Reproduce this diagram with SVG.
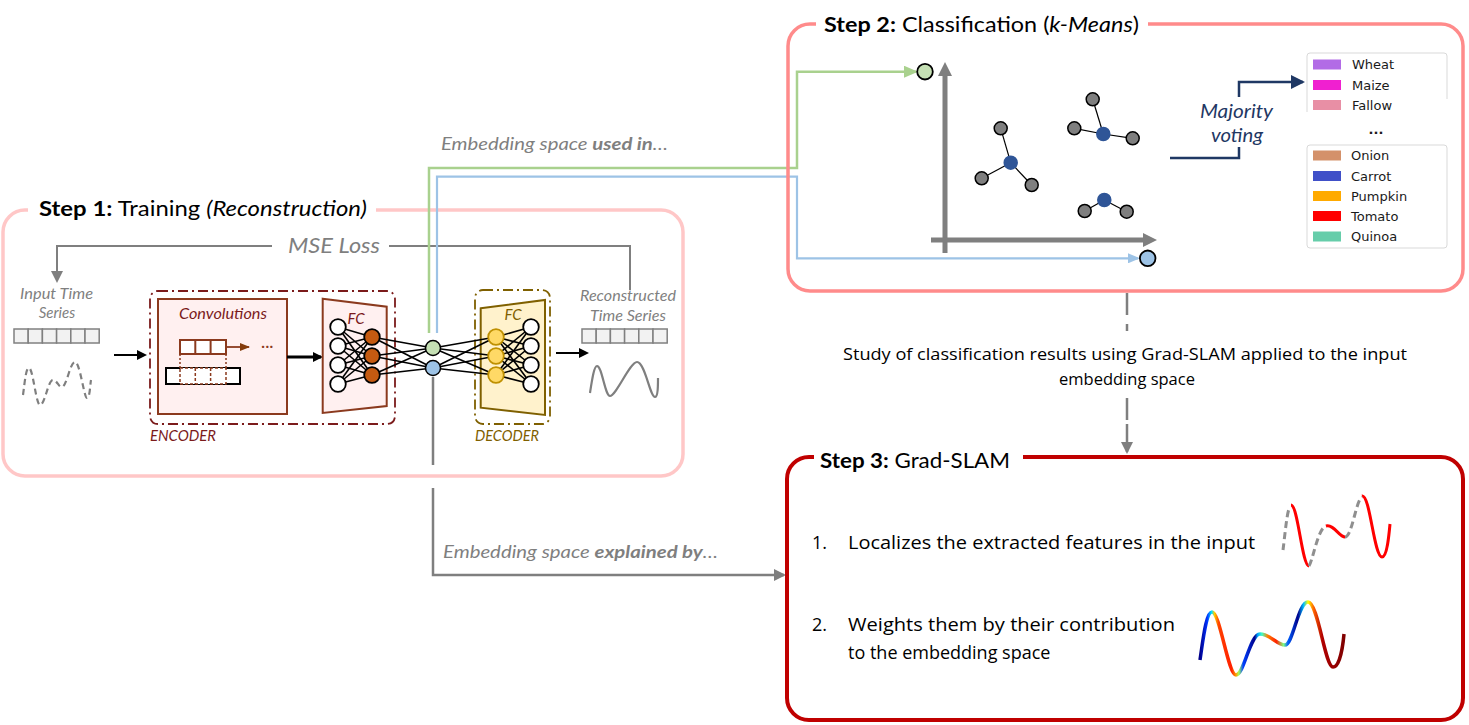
<svg xmlns="http://www.w3.org/2000/svg" width="1469" height="725" viewBox="0 0 1469 725">
<style>
.f{font-family:Lato,"Open Sans","Liberation Sans",sans-serif}
.gi{font-family:Lato,"Open Sans","Liberation Sans",sans-serif;font-style:italic;fill:#7f7f7f}
.si{font-family:Lato,"Open Sans","Liberation Sans",sans-serif;font-style:italic}
.body{font-family:"Open Sans","Noto Sans","Liberation Sans",sans-serif;fill:#000}
.leg{font-family:"DejaVu Sans",sans-serif;font-size:13px;fill:#1a1a1a}
.nw{fill:#fff;stroke:#000;stroke-width:1.8}
.no{fill:#C55A11;stroke:#000;stroke-width:1.8}
.ny{fill:#FFD966;stroke:#BF9000;stroke-width:1.8}
.ng{fill:#7f7f7f;stroke:#000;stroke-width:1.5}
.nb{fill:#2F5597;stroke:#2F5597;stroke-width:1.5}
.net line{stroke:#000;stroke-width:1.6}
.cell{fill:#f2f2f2;stroke:#808080;stroke-width:1.5}
</style>
<defs>
<marker id="ab" markerWidth="10" markerHeight="10" refX="8" refY="5" orient="auto" markerUnits="userSpaceOnUse"><path d="M0,0 L10,5 L0,10 z" fill="#000"/></marker>
<marker id="ag" markerWidth="12" markerHeight="12" refX="10" refY="6" orient="auto" markerUnits="userSpaceOnUse"><path d="M0,0 L12,6 L0,12 z" fill="#7f7f7f"/></marker>
<marker id="agr" markerWidth="14" markerHeight="12" refX="12" refY="6" orient="auto" markerUnits="userSpaceOnUse"><path d="M0,0 L14,6 L0,12 z" fill="#A9D18E"/></marker>
<marker id="abl" markerWidth="12" markerHeight="10" refX="10" refY="5" orient="auto" markerUnits="userSpaceOnUse"><path d="M0,0 L12,5 L0,10 z" fill="#9DC3E6"/></marker>
<marker id="anv" markerWidth="14" markerHeight="14" refX="12" refY="7" orient="auto" markerUnits="userSpaceOnUse"><path d="M0,0 L14,7 L0,14 z" fill="#1F3864"/></marker>
<marker id="abr" markerWidth="10" markerHeight="8" refX="9" refY="4" orient="auto" markerUnits="userSpaceOnUse"><path d="M0,0 L10,4 L0,8 z" fill="#843C0C"/></marker>
<linearGradient id="jet" gradientUnits="userSpaceOnUse" x1="1200" y1="0" x2="1344" y2="0">
<stop offset="0" stop-color="#00008B"/>
<stop offset="0.05" stop-color="#0030ff"/>
<stop offset="0.08" stop-color="#00e0ff"/>
<stop offset="0.1" stop-color="#ffd000"/>
<stop offset="0.13" stop-color="#ff4000"/>
<stop offset="0.22" stop-color="#ff2000"/>
<stop offset="0.25" stop-color="#ffa000"/>
<stop offset="0.27" stop-color="#a0ff60"/>
<stop offset="0.3" stop-color="#0040ff"/>
<stop offset="0.38" stop-color="#00008B"/>
<stop offset="0.4" stop-color="#00a0ff"/>
<stop offset="0.43" stop-color="#40ffc0"/>
<stop offset="0.47" stop-color="#ff8000"/>
<stop offset="0.53" stop-color="#ff2000"/>
<stop offset="0.58" stop-color="#80ff80"/>
<stop offset="0.61" stop-color="#0060ff"/>
<stop offset="0.68" stop-color="#00008B"/>
<stop offset="0.72" stop-color="#00c0ff"/>
<stop offset="0.75" stop-color="#ffff00"/>
<stop offset="0.79" stop-color="#ff6000"/>
<stop offset="0.85" stop-color="#b00000"/>
<stop offset="1" stop-color="#800000"/>
</linearGradient>
</defs>

<rect width="1469" height="725" fill="#fff"/>

<!-- Step 1 -->
<g id="step1">
<rect x="3" y="210" width="680" height="266" rx="22" fill="none" stroke="#FFC7C7" stroke-width="3.5"/>
<rect x="28" y="198" width="348" height="24" fill="#fff"/>
<text class="f" x="39" y="216" font-size="21" textLength="328" lengthAdjust="spacingAndGlyphs"><tspan font-weight="bold">Step 1:</tspan> Training <tspan font-style="italic">(Reconstruction)</tspan></text>
</g>

<g id="mse">
<path d="M272,246 H57 V281" fill="none" stroke="#7f7f7f" stroke-width="2" marker-end="url(#ag)"/>
<path d="M389,246 H630 V290" fill="none" stroke="#7f7f7f" stroke-width="2"/>
<text class="gi" x="288" y="253" font-size="21" textLength="92" lengthAdjust="spacingAndGlyphs">MSE Loss</text>
</g>

<g id="input">
<text class="gi" x="20" y="299" font-size="15" textLength="73" lengthAdjust="spacingAndGlyphs">Input Time</text>
<text class="gi" x="57" y="318" font-size="15" text-anchor="middle">Series</text>
<rect class="cell" x="14" y="329" width="14.2" height="14"/>
<rect class="cell" x="28.2" y="329" width="14.2" height="14"/>
<rect class="cell" x="42.4" y="329" width="14.2" height="14"/>
<rect class="cell" x="56.6" y="329" width="14.2" height="14"/>
<rect class="cell" x="70.8" y="329" width="14.2" height="14"/>
<rect class="cell" x="85" y="329" width="14.2" height="14"/>
<path d="M23,395 C25,380 26,368 29,368 C33,368 36,405 40,405 C45,405 48,380 53,380 C57,380 59,388 62,387 C67,386 70,362 75,362 C80,362 84,398 87,398 C90,398 90,385 91,380" fill="none" stroke="#7f7f7f" stroke-width="2.2" stroke-dasharray="6 4"/>
</g>
<line x1="114" y1="355" x2="145" y2="355" stroke="#000" stroke-width="2" marker-end="url(#ab)"/>

<g id="encoder">
<rect x="150" y="291" width="245" height="133" rx="8" fill="none" stroke="#7B1B1B" stroke-width="1.8" stroke-dasharray="10 4 2 4"/>
<text class="si" x="150" y="441" font-size="15" fill="#7B1B1B" textLength="66" lengthAdjust="spacingAndGlyphs">ENCODER</text>
</g>

<g id="convolutions">
<rect x="158" y="299" width="129" height="115" fill="#FFF0F0" stroke="#8B3A1E" stroke-width="2"/>
<text class="si" x="179" y="319" font-size="15" fill="#7B1B1B" textLength="88" lengthAdjust="spacingAndGlyphs">Convolutions</text>
<rect x="166" y="368" width="74" height="16" fill="#fff" stroke="#000" stroke-width="2"/>
<rect x="180" y="368" width="46" height="16" fill="#fff" stroke="#8B3A1E" stroke-width="1.5" stroke-dasharray="3 2"/>
<line x1="195.3" y1="368" x2="195.3" y2="384" stroke="#8B3A1E" stroke-width="1.5" stroke-dasharray="3 2"/>
<line x1="210.6" y1="368" x2="210.6" y2="384" stroke="#8B3A1E" stroke-width="1.5" stroke-dasharray="3 2"/>
<line x1="180" y1="354" x2="180" y2="368" stroke="#8B3A1E" stroke-width="1.5" stroke-dasharray="2 2"/>
<line x1="226" y1="354" x2="226" y2="368" stroke="#8B3A1E" stroke-width="1.5" stroke-dasharray="2 2"/>
<rect x="180" y="340" width="46" height="14" fill="#fff" stroke="#8B3A1E" stroke-width="2"/>
<line x1="195.3" y1="340" x2="195.3" y2="354" stroke="#8B3A1E" stroke-width="2"/>
<line x1="210.6" y1="340" x2="210.6" y2="354" stroke="#8B3A1E" stroke-width="2"/>
<line x1="226" y1="347" x2="249" y2="347" stroke="#8B3A1E" stroke-width="1.8" marker-end="url(#abr)"/>
<text x="261" y="351" font-family="Lato,sans-serif" font-size="16" fill="#8B3A1E">···</text>
</g>
<line x1="287" y1="357" x2="321" y2="357" stroke="#000" stroke-width="3" marker-end="url(#ab)"/>

<g id="enc-fc">
<polygon points="322.7,298.7 386.7,306.7 386.7,406 322.7,413" fill="#FFF0F0" stroke="#8B3A1E" stroke-width="2"/>
<text class="si" x="356" y="324" font-size="15" fill="#7B1B1B" text-anchor="middle">FC</text>
</g>

<g id="decoder">
<rect x="475" y="290" width="75" height="134" rx="8" fill="none" stroke="#7F6000" stroke-width="1.8" stroke-dasharray="10 4 2 4"/>
<polygon points="480.7,308.3 545,300 545,415 480.7,407.7" fill="#FFF2CC" stroke="#7F6000" stroke-width="2"/>
<text class="si" x="513" y="320" font-size="15" fill="#7F6000" text-anchor="middle">FC</text>
<text class="si" x="475" y="441" font-size="15" fill="#7F6000" textLength="64" lengthAdjust="spacingAndGlyphs">DECODER</text>
</g>

<g id="net-edges" class="net">
<line x1="338" y1="327" x2="372" y2="337"/><line x1="338" y1="327" x2="372" y2="356"/><line x1="338" y1="327" x2="372" y2="375"/>
<line x1="338" y1="346" x2="372" y2="337"/><line x1="338" y1="346" x2="372" y2="356"/><line x1="338" y1="346" x2="372" y2="375"/>
<line x1="338" y1="365" x2="372" y2="337"/><line x1="338" y1="365" x2="372" y2="356"/><line x1="338" y1="365" x2="372" y2="375"/>
<line x1="338" y1="384" x2="372" y2="337"/><line x1="338" y1="384" x2="372" y2="356"/><line x1="338" y1="384" x2="372" y2="375"/>
<line x1="372" y1="337" x2="433" y2="348"/><line x1="372" y1="337" x2="433" y2="368"/>
<line x1="372" y1="356" x2="433" y2="348"/><line x1="372" y1="356" x2="433" y2="368"/>
<line x1="372" y1="375" x2="433" y2="348"/><line x1="372" y1="375" x2="433" y2="368"/>
<line x1="433" y1="348" x2="496" y2="337"/><line x1="433" y1="348" x2="496" y2="356"/><line x1="433" y1="348" x2="496" y2="375"/>
<line x1="433" y1="368" x2="496" y2="337"/><line x1="433" y1="368" x2="496" y2="356"/><line x1="433" y1="368" x2="496" y2="375"/>
<line x1="496" y1="337" x2="531" y2="327"/><line x1="496" y1="337" x2="531" y2="346"/><line x1="496" y1="337" x2="531" y2="365"/><line x1="496" y1="337" x2="531" y2="384"/>
<line x1="496" y1="356" x2="531" y2="327"/><line x1="496" y1="356" x2="531" y2="346"/><line x1="496" y1="356" x2="531" y2="365"/><line x1="496" y1="356" x2="531" y2="384"/>
<line x1="496" y1="375" x2="531" y2="327"/><line x1="496" y1="375" x2="531" y2="346"/><line x1="496" y1="375" x2="531" y2="365"/><line x1="496" y1="375" x2="531" y2="384"/>
</g>

<g id="net-nodes">
<circle class="nw" cx="338" cy="327" r="7.8"/><circle class="nw" cx="338" cy="346" r="7.8"/><circle class="nw" cx="338" cy="365" r="7.8"/><circle class="nw" cx="338" cy="384" r="7.8"/>
<circle class="no" cx="372" cy="337" r="7.8"/><circle class="no" cx="372" cy="356" r="7.8"/><circle class="no" cx="372" cy="375" r="7.8"/>
<circle cx="433" cy="348" r="7.5" fill="#C5E0B4" stroke="#000" stroke-width="1.5"/>
<circle cx="433" cy="368" r="7.5" fill="#9DC3E6" stroke="#000" stroke-width="1.5"/>
<circle class="ny" cx="496" cy="337" r="7.8"/><circle class="ny" cx="496" cy="356" r="7.8"/><circle class="ny" cx="496" cy="375" r="7.8"/>
<circle class="nw" cx="531" cy="327" r="7.8"/><circle class="nw" cx="531" cy="346" r="7.8"/><circle class="nw" cx="531" cy="365" r="7.8"/><circle class="nw" cx="531" cy="384" r="7.8"/>
</g>

<line x1="556" y1="353" x2="587" y2="353" stroke="#000" stroke-width="2" marker-end="url(#ab)"/>

<g id="output">
<text class="gi" x="580" y="301" font-size="15" textLength="96" lengthAdjust="spacingAndGlyphs">Reconstructed</text>
<text class="gi" x="590" y="321" font-size="15" textLength="76" lengthAdjust="spacingAndGlyphs">Time Series</text>
<rect class="cell" x="582" y="329" width="14.2" height="14"/>
<rect class="cell" x="596.2" y="329" width="14.2" height="14"/>
<rect class="cell" x="610.4" y="329" width="14.2" height="14"/>
<rect class="cell" x="624.6" y="329" width="14.2" height="14"/>
<rect class="cell" x="638.8" y="329" width="14.2" height="14"/>
<rect class="cell" x="653" y="329" width="14.2" height="14"/>
<path d="M590,393 C592,380 594,366 597,366 C602,366 605,396 610,396 C616,396 630,362 637,362 C645,362 650,397 655,397 C658,397 658,385 658,378" fill="none" stroke="#7f7f7f" stroke-width="2.2"/>
</g>

<!-- Connectors -->
<g id="connectors">
<path d="M429,333 V168 H797 V71.7 H916" fill="none" stroke="#A9D18E" stroke-width="2.5" marker-end="url(#agr)"/>
<path d="M437,333 V176.7 H797 V258.3 H1138" fill="none" stroke="#9DC3E6" stroke-width="2.2" marker-end="url(#abl)"/>
<line x1="433" y1="377" x2="433" y2="465" stroke="#7f7f7f" stroke-width="2.5"/>
<path d="M433,488 V575 H784" fill="none" stroke="#7f7f7f" stroke-width="2.5" marker-end="url(#ag)"/>
<path d="M1127,293 V336" fill="none" stroke="#7f7f7f" stroke-width="2.5" stroke-dasharray="22 9 7 9"/>
<path d="M1127,398 V452" fill="none" stroke="#7f7f7f" stroke-width="2.5" stroke-dasharray="22 4 26 0" marker-end="url(#ag)"/>
<path d="M1170,158 H1239 V82 H1303" fill="none" stroke="#1F3864" stroke-width="2.5" marker-end="url(#anv)"/>
</g>

<text class="gi" x="441" y="150" font-size="17" textLength="227" lengthAdjust="spacingAndGlyphs">Embedding space <tspan font-weight="bold">used in</tspan>…</text>
<text class="gi" x="443" y="558" font-size="17" textLength="275" lengthAdjust="spacingAndGlyphs">Embedding space <tspan font-weight="bold">explained by</tspan>…</text>

<text class="body" x="843" y="360" font-size="16.5" textLength="564" lengthAdjust="spacingAndGlyphs">Study of classification results using Grad-SLAM applied to the input</text>
<text class="body" x="1127" y="385" font-size="16.5" text-anchor="middle">embedding space</text>

<!-- Step 2 -->
<g id="step2">
<rect x="788" y="24" width="675" height="267" rx="22" fill="none" stroke="#FF8B8B" stroke-width="3.5"/>
<rect x="816" y="12" width="332" height="24" fill="#fff"/>
<text class="f" x="824" y="32" font-size="21" textLength="315" lengthAdjust="spacingAndGlyphs"><tspan font-weight="bold">Step 2:</tspan> Classification (<tspan font-style="italic">k-Means</tspan>)</text>
</g>

<g id="scatter">
<line x1="945" y1="253" x2="945" y2="74" stroke="#7f7f7f" stroke-width="5"/>
<path d="M938,76 L945,62 L952,76 z" fill="#7f7f7f"/>
<line x1="931" y1="240" x2="1145" y2="240" stroke="#7f7f7f" stroke-width="5"/>
<path d="M1143,233 L1157,240 L1143,247 z" fill="#7f7f7f"/>
<g stroke="#000" stroke-width="1.2">
<line x1="1010.7" y1="162.7" x2="1000.7" y2="128.3"/><line x1="1010.7" y1="162.7" x2="981.7" y2="178.3"/><line x1="1010.7" y1="162.7" x2="1031.7" y2="185"/>
<line x1="1103.3" y1="134" x2="1092.7" y2="99.3"/><line x1="1103.3" y1="134" x2="1074.3" y2="128.3"/><line x1="1103.3" y1="134" x2="1132.7" y2="138.3"/>
<line x1="1104.3" y1="200" x2="1084.7" y2="211"/><line x1="1104.3" y1="200" x2="1126.7" y2="211.7"/>
</g>
<circle class="ng" cx="1000.7" cy="128.3" r="6.5"/><circle class="ng" cx="981.7" cy="178.3" r="6.5"/><circle class="ng" cx="1031.7" cy="185" r="6.5"/>
<circle class="nb" cx="1010.7" cy="162.7" r="6.5"/>
<circle class="ng" cx="1092.7" cy="99.3" r="6.5"/><circle class="ng" cx="1074.3" cy="128.3" r="6.5"/><circle class="ng" cx="1132.7" cy="138.3" r="6.5"/>
<circle class="nb" cx="1103.3" cy="134" r="6.5"/>
<circle class="ng" cx="1084.7" cy="211" r="6.5"/><circle class="ng" cx="1126.7" cy="211.7" r="6.5"/>
<circle class="nb" cx="1104.3" cy="200" r="6.5"/>
<circle cx="925" cy="71.7" r="7.8" fill="#C5E0B4" stroke="#000" stroke-width="1.8"/>
<circle cx="1147.7" cy="258.3" r="7.8" fill="#9DC3E6" stroke="#000" stroke-width="1.8"/>
</g>

<g id="majority">
<rect x="1198" y="97" width="80" height="50" fill="#fff"/>
<text class="si" x="1200" y="118" font-size="19" fill="#1F3864" textLength="73" lengthAdjust="spacingAndGlyphs">Majority</text>
<text class="si" x="1211" y="142" font-size="19" fill="#1F3864" textLength="52" lengthAdjust="spacingAndGlyphs">voting</text>
</g>

<g id="legend">
<path d="M1307,112 V56 Q1307,53 1310,53 H1444 Q1447,53 1447,56 V99" fill="#fff" stroke="#D9D9D9" stroke-width="1"/>
<rect x="1307" y="145" width="140" height="103" rx="3" fill="#fff" stroke="#D9D9D9" stroke-width="1"/>
<rect x="1313" y="59.5" width="28" height="10" fill="#B26BE6"/><text class="leg" x="1352" y="69">Wheat</text>
<rect x="1313" y="80" width="28" height="10" fill="#F020D0"/><text class="leg" x="1352" y="89.5">Maize</text>
<rect x="1313" y="100" width="28" height="10" fill="#E88FA5"/><text class="leg" x="1352" y="109.5">Fallow</text>
<text class="leg" x="1376" y="134" text-anchor="middle" font-weight="bold">...</text>
<rect x="1313" y="150.5" width="28" height="10" fill="#D4916A"/><text class="leg" x="1351" y="160">Onion</text>
<rect x="1313" y="171" width="28" height="10" fill="#4050C8"/><text class="leg" x="1351" y="180.5">Carrot</text>
<rect x="1313" y="191" width="28" height="10" fill="#FFAA00"/><text class="leg" x="1351" y="200.5">Pumpkin</text>
<rect x="1313" y="211" width="28" height="10" fill="#FF0000"/><text class="leg" x="1351" y="220.5">Tomato</text>
<rect x="1313" y="231.5" width="28" height="10" fill="#66CDAA"/><text class="leg" x="1351" y="241">Quinoa</text>
</g>

<!-- Step 3 -->
<g id="step3">
<rect x="787" y="457" width="676" height="263" rx="22" fill="none" stroke="#C00000" stroke-width="4"/>
<rect x="814" y="444" width="209" height="26" fill="#fff"/>
<text class="f" x="820" y="468" font-size="21" textLength="190" lengthAdjust="spacingAndGlyphs"><tspan font-weight="bold">Step 3:</tspan> Grad-SLAM</text>
<text class="body" x="812" y="549" font-size="18">1.</text>
<text class="body" x="848" y="549" font-size="18" textLength="407" lengthAdjust="spacingAndGlyphs">Localizes the extracted features in the input</text>
<text class="body" x="812" y="631" font-size="18">2.</text>
<text class="body" x="848" y="631" font-size="18" textLength="327" lengthAdjust="spacingAndGlyphs">Weights them by their contribution</text>
<text class="body" x="848" y="659" font-size="18">to the embedding space</text>
</g>

<g id="wave-local">
<path d="M1283,550 C1285,535 1287,510 1290,507" fill="none" stroke="#8f8f8f" stroke-width="3" stroke-dasharray="7 4"/>
<path d="M1291,505 C1298,505 1302,566 1309,566" fill="none" stroke="#FF0000" stroke-width="3"/>
<path d="M1309,566 C1313,560 1318,528 1326,526" fill="none" stroke="#8f8f8f" stroke-width="3" stroke-dasharray="7 4"/>
<path d="M1326,526 C1334,524 1339,537 1345,537" fill="none" stroke="#FF0000" stroke-width="3"/>
<path d="M1345,537 C1352,537 1356,500 1362,497" fill="none" stroke="#8f8f8f" stroke-width="3" stroke-dasharray="7 4"/>
<path d="M1362,496 C1370,494 1374,557 1382,557 C1387,557 1389,535 1390,524" fill="none" stroke="#FF0000" stroke-width="3"/>
</g>

<g id="wave-weights">
<path d="M1200,660 C1203,640 1206,612 1212,612 C1220,612 1228,675 1236,675 C1244,675 1250,634 1260,634 C1270,634 1277,645 1285,645 C1293,645 1298,602 1308,602 C1318,602 1325,667 1333,667 C1340,667 1343,645 1344,634" fill="none" stroke="url(#jet)" stroke-width="3.5"/>
</g>
</svg>
